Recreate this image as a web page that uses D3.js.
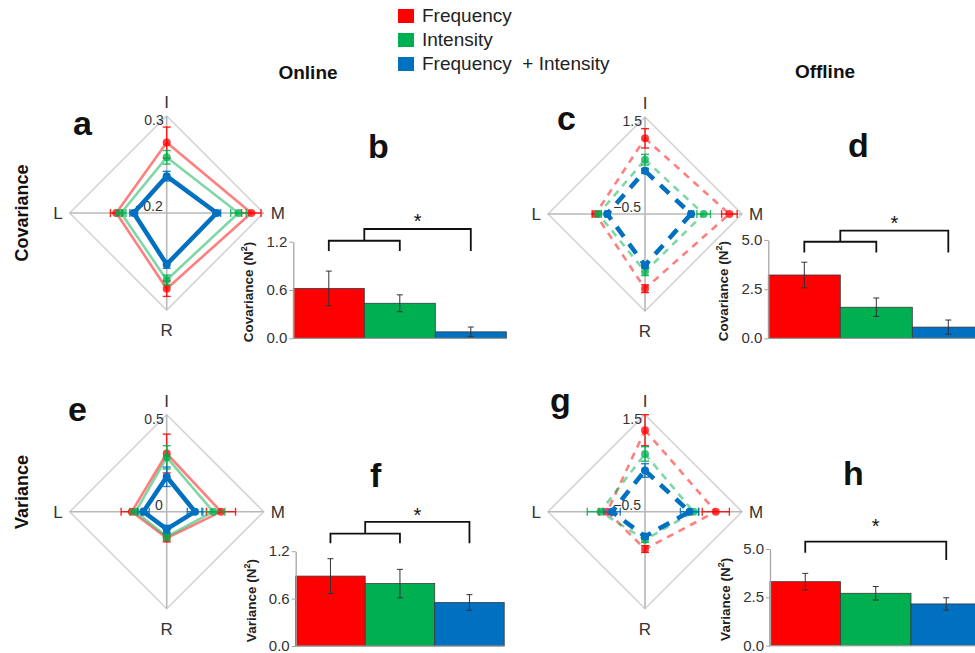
<!DOCTYPE html>
<html>
<head>
<meta charset="utf-8">
<script src="https://cdn.jsdelivr.net/npm/d3@7"></script>
<style>
  body{margin:0;background:#fff;}
  svg{display:block;font-family:Arial,"Liberation Sans",sans-serif;}
</style>
</head>
<body>
<svg id="chart" width="975" height="653"></svg>
<script>
//data ---------------------------------------
var seriesNames=['Frequency','Intensity','Frequency  + Intensity'];
var seriesColors=['#ff0000','#00b050','#0070c0'];
var radarAxes=['I','M','R','L'];

// radar values, axis order I, M, R, L ; rows = red, green, blue
var radarA=[[0.163,0.236,0.19,0.06],[0.087,0.17,0.145,0.035],[-0.01,0.058,0.065,-0.03]];
var radarAErr=[[0.08,0.05,0.04,0.03],[0.035,0.04,0.025,0.025],[0.025,0.02,0.02,0.02]];
var radarC=[[1.06,1.24,1.04,0.52],[0.62,0.71,0.69,0.46],[0.39,0.45,0.56,0.28]];
var radarCErr=[[0.2,0.16,0.08,0.07],[0.11,0.14,0.08,0.06],[0.05,0.05,0.05,0.04]];
var radarE=[[0.30,0.28,0.136,0.18],[0.28,0.24,0.128,0.16],[0.18,0.146,0.09,0.12]];
var radarEErr=[[0.1,0.075,0.02,0.055],[0.06,0.06,0.02,0.03],[0.05,0.04,0.02,0.03]];
var radarG=[[1.18,0.96,0.27,0.28],[0.69,0.50,0.08,0.42],[0.35,0.42,0.01,0.18]];
var radarGErr=[[0.32,0.28,0.07,0.17],[0.15,0.1,0.05,0.27],[0.14,0.19,0.05,0.17]];

// bar values (red, green, blue) and sem
var barB=[0.62,0.435,0.08];
var barBErr=[0.215,0.105,0.06];
var barD=[3.22,1.58,0.57];
var barDErr=[0.65,0.47,0.36];
var barF=[0.885,0.79,0.55];
var barFErr=[0.22,0.18,0.1];
var barH=[3.31,2.71,2.16];
var barHErr=[0.43,0.35,0.32];
var ticksSmall=[0,0.6,1.2];
var ticksLarge=[0,2.5,5];

//panel settings--------------------------------
var radars=[
  {cx:166.7,cy:213,min:-0.2,max:0.3,vals:radarA,err:radarAErr,dashed:false,letter:'a',lx:73,ly:135},
  {cx:645,cy:214,min:-0.5,max:1.5,vals:radarC,err:radarCErr,dashed:true,letter:'c',lx:557,ly:130},
  {cx:166.7,cy:511.7,min:0,max:0.5,vals:radarE,err:radarEErr,dashed:false,letter:'e',lx:68,ly:421},
  {cx:645,cy:511.7,min:-0.5,max:1.5,vals:radarG,err:radarGErr,dashed:true,letter:'g',lx:550,ly:412}
];
var bars=[
  {x0:293.3,y0:338.3,yTop:241.7,bw:71,max:1.2,ticks:ticksSmall,vals:barB,err:barBErr,label:'Covariance (N',
    letter:'b',lx:368,ly:158,br:{inner:1.212,leg:1.085,outer:1.358,star:1.49}},
  {x0:768.3,y0:338.3,yTop:240,bw:72,max:5,ticks:ticksLarge,vals:barD,err:barDErr,label:'Covariance (N',
    letter:'d',lx:848,ly:157,br:{inner:4.91,leg:4.37,outer:5.48,star:6.0}},
  {x0:295.7,y0:646,yTop:551.2,bw:69.5,max:1.2,ticks:ticksSmall,vals:barF,err:barFErr,label:'Variance (N',
    letter:'f',lx:370,ly:487,br:{inner:1.423,leg:1.30,outer:1.57,star:1.70}},
  {x0:770,y0:645.7,yTop:549,bw:70.5,max:5,ticks:ticksLarge,vals:barH,err:barHErr,label:'Variance (N',
    letter:'h',lx:843,ly:485,br:{single:5.38,legL:4.81,legR:4.43,star:6.33}}
];
var R=97;
var dirs=[[0,-1],[1,0],[0,1],[-1,0]];

var svg=d3.select('#chart');

//legend
var leg=svg.append('g');
seriesNames.forEach(function(name,i){
  leg.append('rect').attr('x',398).attr('y',9+i*24).attr('width',16).attr('height',14)
    .attr('fill',seriesColors[i]);
  leg.append('text').attr('x',422).attr('y',22+i*24).attr('font-size',19).attr('fill','#222')
    .style('white-space','pre').text(name);
});

//headers
svg.append('text').attr('x',308).attr('y',79).attr('text-anchor','middle').attr('font-size',19)
  .attr('font-weight','bold').attr('fill','#111').text('Online');
svg.append('text').attr('x',825).attr('y',78).attr('text-anchor','middle').attr('font-size',19)
  .attr('font-weight','bold').attr('fill','#111').text('Offline');
svg.append('text').attr('transform','translate(28,213) rotate(-90)').attr('text-anchor','middle')
  .attr('font-size',18).attr('font-weight','bold').attr('fill','#111').text('Covariance');
svg.append('text').attr('transform','translate(28,492) rotate(-90)').attr('text-anchor','middle')
  .attr('font-size',18).attr('font-weight','bold').attr('fill','#111').text('Variance');

//radar charts
function drawRadar(p){
  var g=svg.append('g');
  var rs=d3.scaleLinear().domain([p.min,p.max]).range([0,R]);
  var outer=dirs.map(function(d){return [p.cx+d[0]*R,p.cy+d[1]*R];});
  g.append('path').attr('d',d3.line().curve(d3.curveLinearClosed)(outer))
    .attr('fill','none').attr('stroke','#d4d4d4').attr('stroke-width',1.6);
  g.append('line').attr('x1',p.cx-R).attr('x2',p.cx+R).attr('y1',p.cy).attr('y2',p.cy)
    .attr('stroke','#b8b8b8').attr('stroke-width',1.6);
  g.append('line').attr('x1',p.cx).attr('x2',p.cx).attr('y1',p.cy-R).attr('y2',p.cy+R)
    .attr('stroke','#b8b8b8').attr('stroke-width',1.6);

  //tick labels
  g.append('text').attr('x',p.cx-3).attr('y',p.cy-R+9).attr('text-anchor','end')
    .attr('font-size',14).attr('fill','#333').text(d3.format('.1f')(p.max));
  g.append('text').attr('x',p.cx-4).attr('y',p.cy-2).attr('text-anchor','end')
    .attr('font-size',14).attr('fill','#333').text(p.min==0?'0':d3.format('.1f')(p.min));

  //axis names
  g.append('text').attr('x',p.cx).attr('y',p.cy-R-8).attr('text-anchor','middle')
    .attr('font-size',17).attr('fill','#333').text(radarAxes[0]);
  g.append('text').attr('x',p.cx+R+7).attr('y',p.cy+6).attr('font-size',17).attr('fill','#333').text(radarAxes[1]);
  g.append('text').attr('x',p.cx).attr('y',p.cy+R+26).attr('text-anchor','middle')
    .attr('font-size',17).attr('fill','#333').text(radarAxes[2]);
  g.append('text').attr('x',p.cx-R-7).attr('y',p.cy+6).attr('text-anchor','end')
    .attr('font-size',17).attr('fill','#333').text(radarAxes[3]);

  p.vals.forEach(function(vals,s){
    var pts=vals.map(function(v,i){return [p.cx+dirs[i][0]*rs(v),p.cy+dirs[i][1]*rs(v)];});
    var isBlue=(s==2);
    var path=g.append('path').attr('d',d3.line().curve(d3.curveLinearClosed)(pts))
      .attr('fill','none').attr('stroke',seriesColors[s])
      .attr('stroke-width',isBlue?4.5:2.6)
      .attr('stroke-opacity',isBlue?1:0.5)
      .attr('stroke-linejoin','round');
    if(p.dashed){
      path.attr('stroke-dasharray',isBlue?'12,9':'7,6');
    }
    //error bars
    vals.forEach(function(v,i){
      var e=p.err[s][i];
      var d=dirs[i];
      var a=rs(v-e),b=rs(v+e);
      var eg=g.append('g').attr('stroke',seriesColors[s]).attr('stroke-width',1.4).attr('stroke-opacity',0.85);
      eg.append('line').attr('x1',p.cx+d[0]*a).attr('y1',p.cy+d[1]*a)
        .attr('x2',p.cx+d[0]*b).attr('y2',p.cy+d[1]*b);
      [a,b].forEach(function(t){
        var x=p.cx+d[0]*t,y=p.cy+d[1]*t;
        eg.append('line').attr('x1',x-d[1]*4).attr('y1',y-d[0]*4)
          .attr('x2',x+d[1]*4).attr('y2',y+d[0]*4);
      });
    });
    g.selectAll(null).data(pts).enter().append('circle')
      .attr('cx',function(d){return d[0];}).attr('cy',function(d){return d[1];})
      .attr('r',4).attr('fill',seriesColors[s]).attr('fill-opacity',isBlue?1:0.75);
  });

  svg.append('text').attr('x',p.lx).attr('y',p.ly).attr('font-size',34).attr('font-weight','bold')
    .attr('fill','#111').text(p.letter);
}
radars.forEach(drawRadar);

//bar charts
function drawBars(p){
  var g=svg.append('g');
  var x=d3.scaleBand().domain(seriesNames).range([p.x0,p.x0+3*p.bw]).padding(0);
  var y=d3.scaleLinear().domain([0,p.max]).range([p.y0,p.yTop]);

  g.selectAll(null).data(p.vals).enter().append('rect')
    .attr('x',function(d,i){return x(seriesNames[i]);})
    .attr('y',function(d){return y(d);})
    .attr('width',x.bandwidth())
    .attr('height',function(d){return p.y0-y(d);})
    .attr('fill',function(d,i){return seriesColors[i];})
    .attr('stroke','#3a3a3a').attr('stroke-width',0.8);

  //error bars
  p.vals.forEach(function(v,i){
    var cx=x(seriesNames[i])+x.bandwidth()/2;
    var e=p.err[i];
    var eg=g.append('g').attr('stroke','#333').attr('stroke-width',1);
    eg.append('line').attr('x1',cx).attr('x2',cx).attr('y1',y(v+e)).attr('y2',y(v-e));
    eg.append('line').attr('x1',cx-3).attr('x2',cx+3).attr('y1',y(v+e)).attr('y2',y(v+e));
    eg.append('line').attr('x1',cx-3).attr('x2',cx+3).attr('y1',y(v-e)).attr('y2',y(v-e));
  });

  var ax=g.append('g').attr('transform','translate('+p.x0+',0)')
    .call(d3.axisLeft(y).tickValues(p.ticks).tickFormat(d3.format('.1f')).tickSize(4).tickSizeOuter(0));
  ax.select('.domain').attr('stroke','#a6a6a6').attr('stroke-width',1.3);
  ax.selectAll('.tick line').attr('stroke','#a6a6a6');
  ax.selectAll('.tick text').attr('font-size',15).attr('fill','#333')
    .attr('font-family','Arial,"Liberation Sans",sans-serif').attr('x',-6).attr('dy','0.3em');
  g.append('line').attr('x1',p.x0).attr('x2',p.x0+3*p.bw).attr('y1',p.y0).attr('y2',p.y0)
    .attr('stroke','#a6a6a6').attr('stroke-width',1);

  //y label with superscript
  var lab=g.append('text').attr('transform','translate('+(p.x0-40)+','+((p.y0+p.yTop)/2+2)+') rotate(-90)')
    .attr('text-anchor','middle').attr('font-size',13.5).attr('font-weight','bold').attr('fill','#222');
  lab.append('tspan').text(p.label);
  lab.append('tspan').attr('font-size',9).attr('dy',-6).text('2');
  lab.append('tspan').attr('dy',6).text(')');

  //significance brackets
  var c0=x(seriesNames[0])+x.bandwidth()/2;
  var c1=x(seriesNames[1])+x.bandwidth()/2;
  var c2=x(seriesNames[2])+x.bandwidth()/2;
  var bg=g.append('g').attr('fill','none').attr('stroke','#111').attr('stroke-width',1.8);
  var br=p.br, starX;
  if(br.single!==undefined){
    bg.append('path').attr('d','M'+c0+','+y(br.legL)+'V'+y(br.single)+'H'+c2+'V'+y(br.legR));
    starX=(c0+c2)/2;
  }else{
    var mid=x(seriesNames[1]);
    bg.append('path').attr('d','M'+c0+','+y(br.leg)+'V'+y(br.inner)+'H'+c1+'V'+y(br.leg));
    bg.append('path').attr('d','M'+mid+','+y(br.inner)+'V'+y(br.outer)+'H'+c2+'V'+y(br.leg));
    starX=(mid+c2)/2;
  }
  g.append('text').attr('x',starX).attr('y',y(br.star)+10).attr('text-anchor','middle')
    .attr('font-size',20).attr('fill','#111').text('*');

  svg.append('text').attr('x',p.lx).attr('y',p.ly).attr('font-size',34).attr('font-weight','bold')
    .attr('fill','#111').text(p.letter);
}
bars.forEach(drawBars);
</script>
</body>
</html>
